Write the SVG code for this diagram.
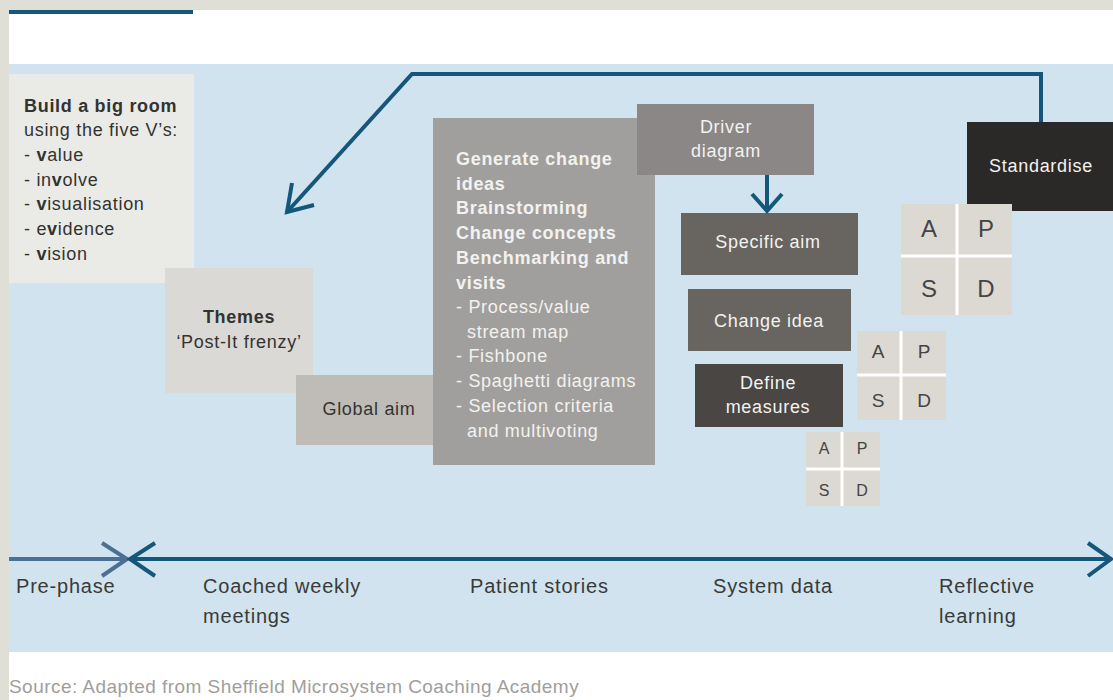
<svg xmlns="http://www.w3.org/2000/svg" width="1113" height="700" viewBox="0 0 1113 700">
<defs>
<style>
text{font-family:"Liberation Sans",Arial,sans-serif;}
.t18{font-size:18px;letter-spacing:0.7px;}
.dk{fill:#333331;}
.wt{fill:#f2f2f0;}
.b{font-weight:bold;}
.c{text-anchor:middle;}
.tl{font-size:20px;fill:#3a3a38;letter-spacing:0.8px;}
.pd{fill:#dcd9d2;}
.pl{font-family:"Liberation Sans",Arial,sans-serif;fill:#444;text-anchor:middle;}
.sep{stroke:#ffffff;stroke-width:3;}
.conn{fill:none;stroke:#14577a;stroke-width:4;stroke-linejoin:miter;}
</style>
</defs>
<rect x="0" y="0" width="1113" height="700" fill="#e0dfd7"/>
<rect x="9" y="10" width="1104" height="690" fill="#ffffff"/>
<rect x="9" y="10" width="184" height="4" fill="#14577a"/>
<rect x="9" y="64" width="1104" height="588" fill="#d0e3ee"/>

<g id="build-room">
<rect x="9" y="74" width="185" height="209" fill="#eaebe7"/>
<text class="t18 dk" x="24" y="112"><tspan class="b">Build a big room</tspan><tspan x="24" y="136">using the five V’s:</tspan><tspan x="24" y="161">- <tspan class="b">v</tspan>alue</tspan><tspan x="24" y="186">- in<tspan class="b">v</tspan>olve</tspan><tspan x="24" y="210">- <tspan class="b">v</tspan>isualisation</tspan><tspan x="24" y="235">- e<tspan class="b">v</tspan>idence</tspan><tspan x="24" y="260">- <tspan class="b">v</tspan>ision</tspan></text>
</g>

<g id="themes">
<rect x="165" y="268" width="148" height="125" fill="#dad9d6"/>
<text class="t18 dk c" x="239" y="323"><tspan class="b">Themes</tspan><tspan x="239" y="348">‘Post-It frenzy’</tspan></text>
</g>

<g id="global-aim">
<rect x="296" y="375" width="148" height="70" fill="#bfbcb8"/>
<text class="t18 dk c" x="369" y="415">Global aim</text>
</g>

<g id="change-ideas">
<rect x="433" y="118" width="222" height="347" fill="#a19f9d"/>
<text class="t18 wt" x="456" y="165"><tspan class="b">Generate change</tspan><tspan class="b" x="456" y="190">ideas</tspan><tspan class="b" x="456" y="214">Brainstorming</tspan><tspan class="b" x="456" y="239">Change concepts</tspan><tspan class="b" x="456" y="264">Benchmarking and</tspan><tspan class="b" x="456" y="289">visits</tspan><tspan x="456" y="313">- Process/value</tspan><tspan x="467" y="338">stream map</tspan><tspan x="456" y="362">- Fishbone</tspan><tspan x="456" y="387">- Spaghetti diagrams</tspan><tspan x="456" y="412">- Selection criteria</tspan><tspan x="467" y="437">and multivoting</tspan></text>
</g>

<g id="driver-diagram">
<rect x="637" y="104" width="177" height="71" fill="#8a8786"/>
<text class="t18 wt c" x="726" y="133">Driver<tspan x="726" y="157">diagram</tspan></text>
</g>

<g id="specific-aim">
<rect x="681" y="213" width="177" height="62" fill="#68645f"/>
<text class="t18 wt c" x="768" y="248">Specific aim</text>
</g>

<g id="change-idea">
<rect x="688" y="289" width="163" height="62" fill="#68645f"/>
<text class="t18 wt c" x="769" y="327">Change idea</text>
</g>

<g id="define-measures">
<rect x="695" y="364" width="148" height="63" fill="#4a4643"/>
<text class="t18 wt c" x="768" y="389">Define<tspan x="768" y="413">measures</tspan></text>
</g>

<g id="standardise">
<rect x="967" y="122" width="146" height="89" fill="#2a2927"/>
<text class="t18 wt c" x="1041" y="172">Standardise</text>
</g>

<g id="pdsa-large">
<rect class="pd" x="901" y="204" width="111" height="111"/>
<line class="sep" x1="957" y1="204" x2="957" y2="315"/>
<line class="sep" x1="901" y1="256" x2="1012" y2="256"/>
<text class="pl" font-size="24" x="929" y="237">A</text>
<text class="pl" font-size="24" x="986" y="237">P</text>
<text class="pl" font-size="24" x="929" y="297">S</text>
<text class="pl" font-size="24" x="986" y="297">D</text>
</g>

<g id="pdsa-medium">
<rect class="pd" x="857" y="331" width="89" height="89"/>
<line class="sep" x1="901" y1="331" x2="901" y2="420"/>
<line class="sep" x1="857" y1="375" x2="946" y2="375"/>
<text class="pl" font-size="19" x="878" y="358">A</text>
<text class="pl" font-size="19" x="924" y="358">P</text>
<text class="pl" font-size="19" x="878" y="407">S</text>
<text class="pl" font-size="19" x="924" y="407">D</text>
</g>

<g id="pdsa-small">
<rect class="pd" x="806" y="432" width="74" height="74"/>
<line class="sep" x1="842" y1="432" x2="842" y2="506"/>
<line class="sep" x1="806" y1="469" x2="880" y2="469"/>
<text class="pl" font-size="16" x="824" y="454">A</text>
<text class="pl" font-size="16" x="862" y="454">P</text>
<text class="pl" font-size="16" x="824" y="496">S</text>
<text class="pl" font-size="16" x="862" y="496">D</text>
</g>

<g id="connectors">
<path class="conn" d="M1041 122 V74 H412 L287 212"/>
<path class="conn" d="M292 183 L287 212 L314 205"/>
<path class="conn" d="M767 175 V211"/>
<path class="conn" d="M752 194 L767 211 L782 194"/>
<line x1="9" y1="559" x2="127" y2="559" stroke="#4a7094" stroke-width="4"/>
<path d="M102 543 L127 559 L102 576" fill="none" stroke="#4a7094" stroke-width="4"/>
<line x1="130" y1="559" x2="1110" y2="559" stroke="#14577a" stroke-width="4"/>
<path d="M155 543 L130 559 L155 576" fill="none" stroke="#14577a" stroke-width="4"/>
<path d="M1088 543 L1111 559 L1088 576" fill="none" stroke="#14577a" stroke-width="4"/>
</g>

<g id="timeline-labels">
<text class="tl" x="16" y="593">Pre-phase</text>
<text class="tl" x="203" y="593">Coached weekly<tspan x="203" y="623">meetings</tspan></text>
<text class="tl" x="470" y="593">Patient stories</text>
<text class="tl" x="713" y="593">System data</text>
<text class="tl" x="939" y="593">Reflective<tspan x="939" y="623">learning</tspan></text>
</g>

<text x="9" y="693" font-size="19" letter-spacing="0.45" fill="#a09e9b">Source: Adapted from Sheffield Microsystem Coaching Academy</text>
</svg>
